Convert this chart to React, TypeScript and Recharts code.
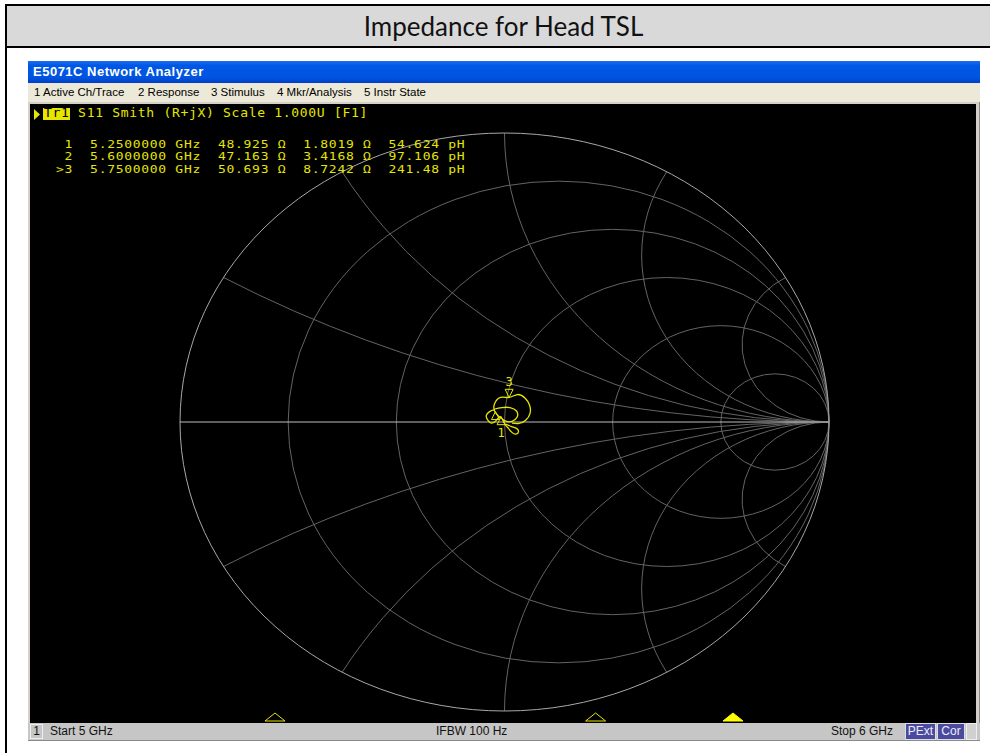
import { ComposedChart, XAxis, YAxis, Line, ReferenceArea, ReferenceDot } from 'recharts';

const traceRe = [
  0.003, 0.022, 0.038, 0.043, 0.035, 0.022, 0.012, 0.0, -0.012,
  -0.026, -0.04, -0.052, -0.056, -0.046, -0.029, -0.008, 0.017, 0.037,
  0.039, 0.023, 0.002, -0.017, -0.03, -0.031, -0.012, 0.014, 0.04,
  0.063, 0.077, 0.079, 0.066, 0.045, 0.023,
];
const traceIm = [
  -0.007, -0.016, -0.023, -0.034, -0.042, -0.035, -0.022, -0.005, 0.018,
  0.005, -0.004, 0.007, 0.023, 0.036, 0.045, 0.05, 0.05, 0.038,
  0.017, 0.002, 0.004, 0.019, 0.036, 0.062, 0.085, 0.085, 0.095,
  0.083, 0.059, 0.031, 0.007, -0.005, -0.004,
];

// marker readout
const markerNames = ['1', '2', '3'];
const markerFreqGHz = [5.25, 5.6, 5.75];
const markerR = [48.925, 47.163, 50.693];
const markerX = [1.8019, 3.4168, 8.7242];
const markerL = ['54.624', '97.106', '241.48'];
const activeMarker = 2;

// smith grid: constant resistance circles and reactance arcs
const rCircles = [0.2, 0.5, 1, 2, 5];
const xArcs = [0.268, 0.577, 1, 1.732, 3.732];

const menuItems = ['1 Active Ch/Trace', '2 Response', '3 Stimulus', '4 Mkr/Analysis', '5 Instr State'];
const menuLeft = [34, 138, 211, 277, 364];

// stimulus span seen across the smith plot width (GHz at left / right edge of the circle)
const spanLo = 5.1463;
const spanHi = 5.8548;

const Z0 = 50;
const YELLOW = '#e6e600';
const MONO = '"DejaVu Sans Mono", monospace';
const UI = '"Liberation Sans", Arial, sans-serif';

const traceData = traceRe.map((x, i) => ({ x, y: traceIm[i] }));

const markerGamma = markerR.map((r, i) => {
  const zr = r / Z0;
  const zi = markerX[i] / Z0;
  const d = (zr + 1) * (zr + 1) + zi * zi;
  return {
    x: ((zr - 1) * (zr + 1) + zi * zi) / d,
    y: (zi * (zr + 1) - (zr - 1) * zi) / d,
  };
});

// frequency -> position on the horizontal axis of the plot
const stimX = markerFreqGHz.map((f) => -1 + (2 * (f - spanLo)) / (spanHi - spanLo));

const markerRows = markerNames.map((n, i) =>
  `${i === activeMarker ? '>' : ' '}${n}  ${markerFreqGHz[i].toFixed(7)} GHz  ${markerR[i].toFixed(3)} Ω  ${markerX[i].toFixed(4)} Ω  ${markerL[i]} pH`
);

const SmithGrid = ({ x, y, width, height }: any) => {
  const sx = width / 2;
  const sy = height / 2;
  const cx = x + sx;
  const cy = y + sy;
  const px = (g: number) => cx + g * sx;
  const py = (g: number) => cy - g * sy;
  return (
    <g fill="none" strokeWidth={1}>
      {rCircles.map((r) => (
        <ellipse key={`r${r}`} cx={px(r / (1 + r))} cy={cy} rx={sx / (1 + r)} ry={sy / (1 + r)} stroke="#646464" />
      ))}
      {xArcs.map((xv) =>
        [1, -1].map((s) => {
          const ex = (xv * xv - 1) / (xv * xv + 1);
          const ey = (s * 2 * xv) / (xv * xv + 1);
          return (
            <path
              key={`x${xv}${s}`}
              d={`M${px(1)},${cy} A${sx / xv},${sy / xv} 0 0 ${s > 0 ? 1 : 0} ${px(ex)},${py(ey)}`}
              stroke="#646464"
            />
          );
        })
      )}
      <ellipse cx={cx} cy={cy} rx={sx} ry={sy} stroke="#a8a8a8" />
      <line x1={px(-1)} y1={cy} x2={px(1)} y2={cy} stroke="#bdbdbd" />
    </g>
  );
};

const TraceMarker = ({ cx, cy, idx }: any) => {
  if (idx === activeMarker) {
    return (
      <g>
        <path d={`M${cx},${cy} L${cx - 4},${cy - 8} L${cx + 4},${cy - 8} Z`} fill="none" stroke={YELLOW} />
        <text x={cx} y={cy - 11} textAnchor="middle" fill={YELLOW} fontSize={12} fontFamily={MONO}>
          {markerNames[idx]}
        </text>
      </g>
    );
  }
  return (
    <g>
      <path d={`M${cx},${cy} L${cx - 4},${cy + 8} L${cx + 4},${cy + 8} Z`} fill="none" stroke={YELLOW} />
      {idx === 0 && (
        <text x={cx} y={cy + 20} textAnchor="middle" fill={YELLOW} fontSize={12} fontFamily={MONO}>
          {markerNames[idx]}
        </text>
      )}
    </g>
  );
};

const StimulusMarker = ({ cx, cy, active }: any) => (
  <path
    d={`M${cx},${cy + 2} L${cx - 10},${cy + 10} L${cx + 10},${cy + 10} Z`}
    fill={active ? '#ffff00' : 'none'}
    stroke={active ? '#ffff00' : YELLOW}
  />
);

const abs = (left: number, top: number, extra: any = {}) => ({ position: 'absolute' as const, left, top, ...extra });

export default function App() {
  return (
    <div style={abs(0, 0, { width: 990, height: 753, overflow: 'hidden', background: '#fff' })}>
      {/* table frame */}
      <div style={abs(5, 4, { width: 1000, height: 800, borderLeft: '2px solid #000', borderTop: '2px solid #000' })} />
      <div
        style={abs(7, 6, {
          width: 993,
          height: 40,
          background: '#d9d9d9',
          borderBottom: '2px solid #000',
          textAlign: 'center',
          lineHeight: '40px',
          fontFamily: 'Lato, sans-serif',
          fontSize: 26,
          color: '#111',
        })}
      >
        Impedance for Head TSL
      </div>

      {/* analyzer window */}
      <div
        style={abs(28, 61, {
          width: 952,
          height: 22,
          background: 'linear-gradient(#1a6ef2 0%, #0058e6 20%, #0053df 75%, #003fc6 100%)',
          color: '#fff',
          fontFamily: UI,
          fontWeight: 'bold',
          fontSize: 13,
          letterSpacing: 0.5,
          lineHeight: '22px',
          paddingLeft: 5,
          boxSizing: 'border-box',
        })}
      >
        E5071C Network Analyzer
      </div>
      <div style={abs(28, 83, { width: 952, height: 19, background: '#ece9d8' })}>
        {menuItems.map((m, i) => (
          <span key={m} style={abs(menuLeft[i] - 28, 3, { fontFamily: UI, fontSize: 11.5, color: '#000', whiteSpace: 'pre' })}>
            {m}
          </span>
        ))}
      </div>
      <div style={abs(28, 102, { width: 952, height: 621, background: '#d4d0c8', borderRight: '1px solid #888', boxSizing: 'border-box' })} />

      <div style={abs(30, 104, { width: 946, height: 619, background: '#000' })}>
        <ComposedChart width={946} height={619} margin={{ top: 29, right: 147, bottom: 12, left: 150 }}>
          <XAxis xAxisId="g" type="number" dataKey="x" domain={[-1, 1]} hide allowDataOverflow />
          <YAxis yAxisId="g" type="number" domain={[-1, 1]} hide allowDataOverflow />
          <ReferenceArea
            xAxisId="g"
            yAxisId="g"
            x1={-1}
            x2={1}
            y1={-1}
            y2={1}
            shape={(p: any) => <SmithGrid {...p} />}
          />
          <Line
            xAxisId="g"
            yAxisId="g"
            data={traceData}
            dataKey="y"
            type="natural"
            stroke={YELLOW}
            strokeWidth={1.3}
            dot={false}
            isAnimationActive={false}
          />
          {markerGamma.map((g, i) => (
            <ReferenceDot
              key={`m${i}`}
              xAxisId="g"
              yAxisId="g"
              x={g.x}
              y={g.y}
              shape={(p: any) => <TraceMarker cx={p.cx} cy={p.cy} idx={i} />}
            />
          ))}
          {stimX.map((sx, i) => (
            <ReferenceDot
              key={`s${i}`}
              xAxisId="g"
              yAxisId="g"
              x={sx}
              y={-1}
              ifOverflow="visible"
              shape={(p: any) => <StimulusMarker cx={p.cx} cy={p.cy} active={i === activeMarker} />}
            />
          ))}
        </ComposedChart>

        {/* trace header and marker table */}
        <svg style={abs(3, 5)} width={8} height={11}>
          <path d="M1,0 L7,5.5 L1,11 Z" fill={YELLOW} />
        </svg>
        <div style={abs(13, 4, { width: 27, height: 12, background: YELLOW })} />
        <div
          style={abs(14, 1, {
            fontFamily: MONO,
            fontSize: 13,
            letterSpacing: 0.7,
            lineHeight: '16px',
            whiteSpace: 'pre',
            color: YELLOW,
          })}
        >
          <span style={{ color: '#000' }}>Tr1</span> S11 Smith (R+jX) Scale 1.000U [F1]
        </div>
        {markerRows.map((row, i) => (
          <div
            key={row}
            style={abs(26, 34.5 + i * 12.6, {
              fontFamily: MONO,
              fontSize: 13,
              letterSpacing: 0.7,
              lineHeight: '12px',
              whiteSpace: 'pre',
              color: YELLOW,
              transform: 'scaleY(0.82)',
              transformOrigin: 'left center',
            })}
          >
            {row}
          </div>
        ))}
      </div>

      {/* status bar */}
      <div
        style={abs(28, 723, {
          width: 952,
          height: 18,
          background: '#c6c6c6',
          borderBottom: '1px solid #8a8a8a',
          boxSizing: 'border-box',
          fontFamily: UI,
          fontSize: 12,
          color: '#111',
        })}
      >
        <div style={abs(2, 1, { width: 13, height: 15, border: '1px solid #eee', boxSizing: 'border-box', textAlign: 'center', lineHeight: '13px' })}>1</div>
        <span style={abs(22, 1, { lineHeight: '15px' })}>Start 5 GHz</span>
        <span style={abs(408, 1, { lineHeight: '15px' })}>IFBW 100 Hz</span>
        <span style={abs(803, 1, { lineHeight: '15px' })}>Stop 6 GHz</span>
        <div style={abs(877, 0, { width: 31, height: 17, background: '#4a4a9e', color: '#eef', border: '1px solid #ddd', boxSizing: 'border-box', lineHeight: '15px', textAlign: 'center' })}>PExt</div>
        <div style={abs(909, 0, { width: 28, height: 17, background: '#4a4a9e', color: '#eef', border: '1px solid #ddd', boxSizing: 'border-box', lineHeight: '15px', textAlign: 'center' })}>Cor</div>
        <div style={abs(938, 0, { width: 11, height: 17, background: '#d0d0d0', border: '1px solid #eee', boxSizing: 'border-box' })} />
      </div>
    </div>
  );
}
